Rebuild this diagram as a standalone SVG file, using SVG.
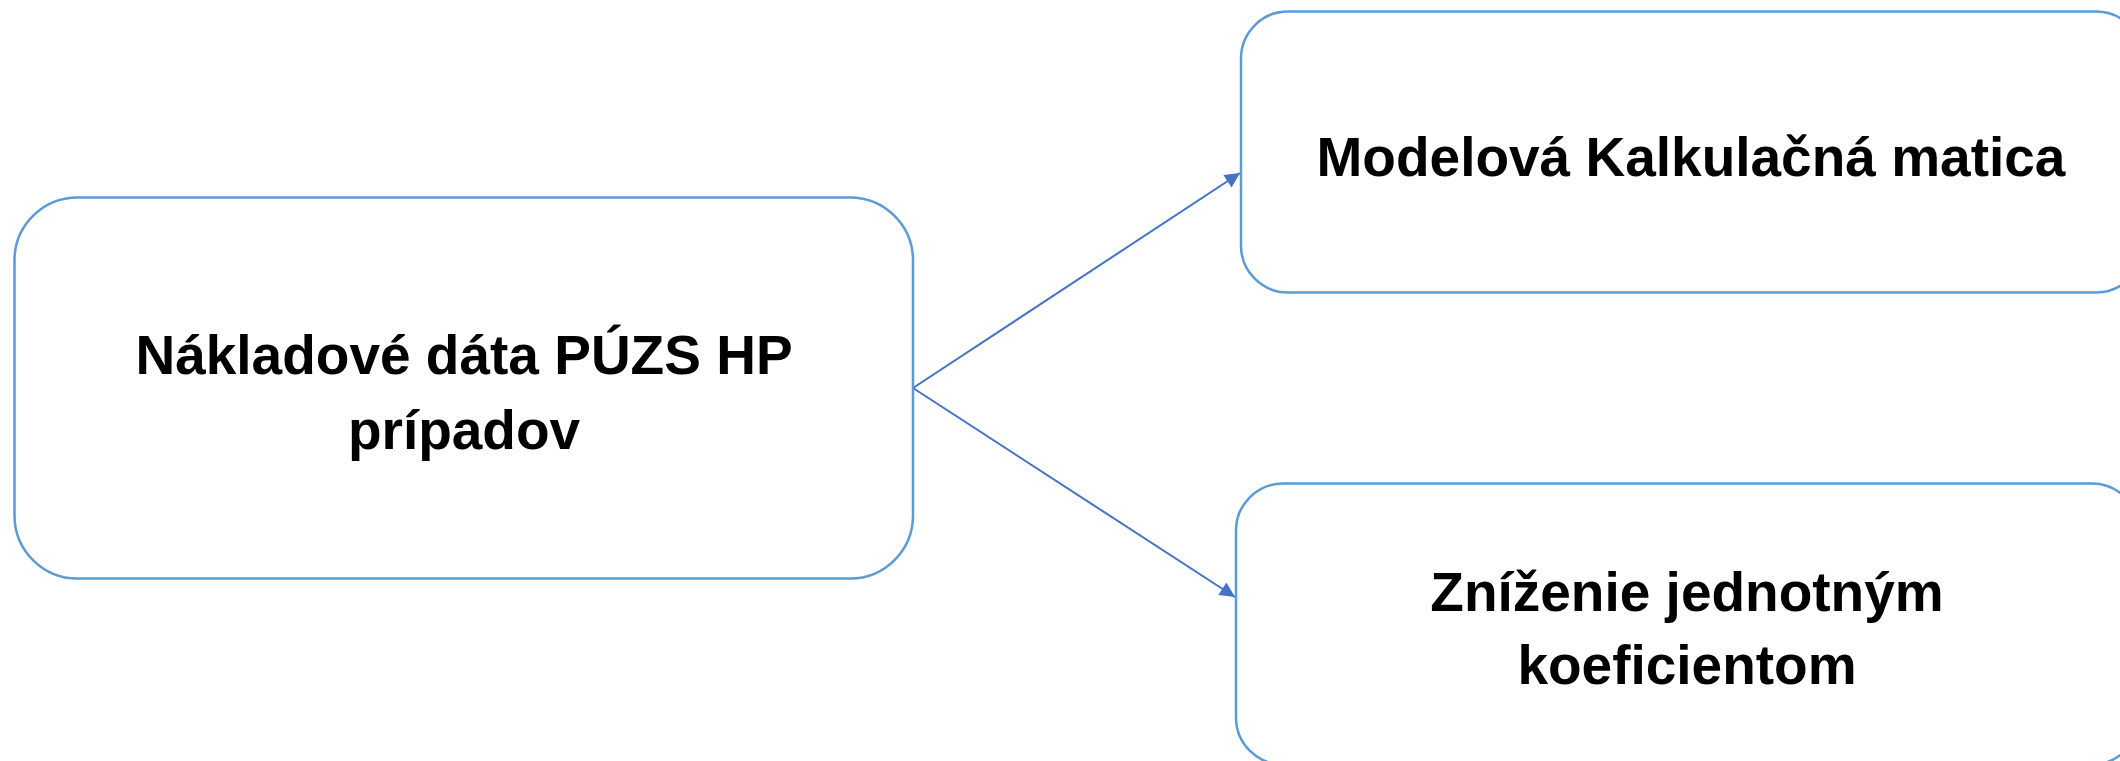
<svg xmlns="http://www.w3.org/2000/svg" width="2120" height="761" viewBox="0 0 2120 761">
  <style>
    .box { fill: #ffffff; stroke: #5B9BD5; stroke-width: 2.5; }
    .lbl { font-family: "Liberation Sans", Arial, sans-serif; font-weight: bold; font-size: 55px; fill: #000000; text-anchor: middle; }
    .conn { stroke: #4472C4; stroke-width: 2; fill: none; marker-end: url(#arrow); }
  </style>
  <defs>
    <marker id="arrow" viewBox="0 0 10 10" refX="10" refY="5" markerUnits="userSpaceOnUse" markerWidth="18" markerHeight="15" orient="auto">
      <path d="M0,0 L10,5 L0,10 z" fill="#4472C4"/>
    </marker>
  </defs>
  <rect width="2120" height="761" fill="#ffffff"/>
  <g id="connectors">
    <line class="conn" x1="913" y1="388" x2="1240" y2="173"/>
    <line class="conn" x1="913" y1="388" x2="1235" y2="597"/>
  </g>
  <g id="node-source">
    <rect class="box" x="14.5" y="197.5" width="898.5" height="381" rx="63" ry="63"/>
    <text class="lbl" x="464" y="374">Nákladové dáta PÚZS HP</text>
    <text class="lbl" x="464" y="449">prípadov</text>
  </g>
  <g id="node-matrix">
    <rect class="box" x="1241" y="11.5" width="902" height="281" rx="47" ry="47"/>
    <text class="lbl" x="1691" y="176">Modelová Kalkulačná matica</text>
  </g>
  <g id="node-coefficient">
    <rect class="box" x="1236" y="483.5" width="903" height="281" rx="47" ry="47"/>
    <text class="lbl" x="1687" y="611">Zníženie jednotným</text>
    <text class="lbl" x="1687" y="684">koeficientom</text>
  </g>
</svg>
